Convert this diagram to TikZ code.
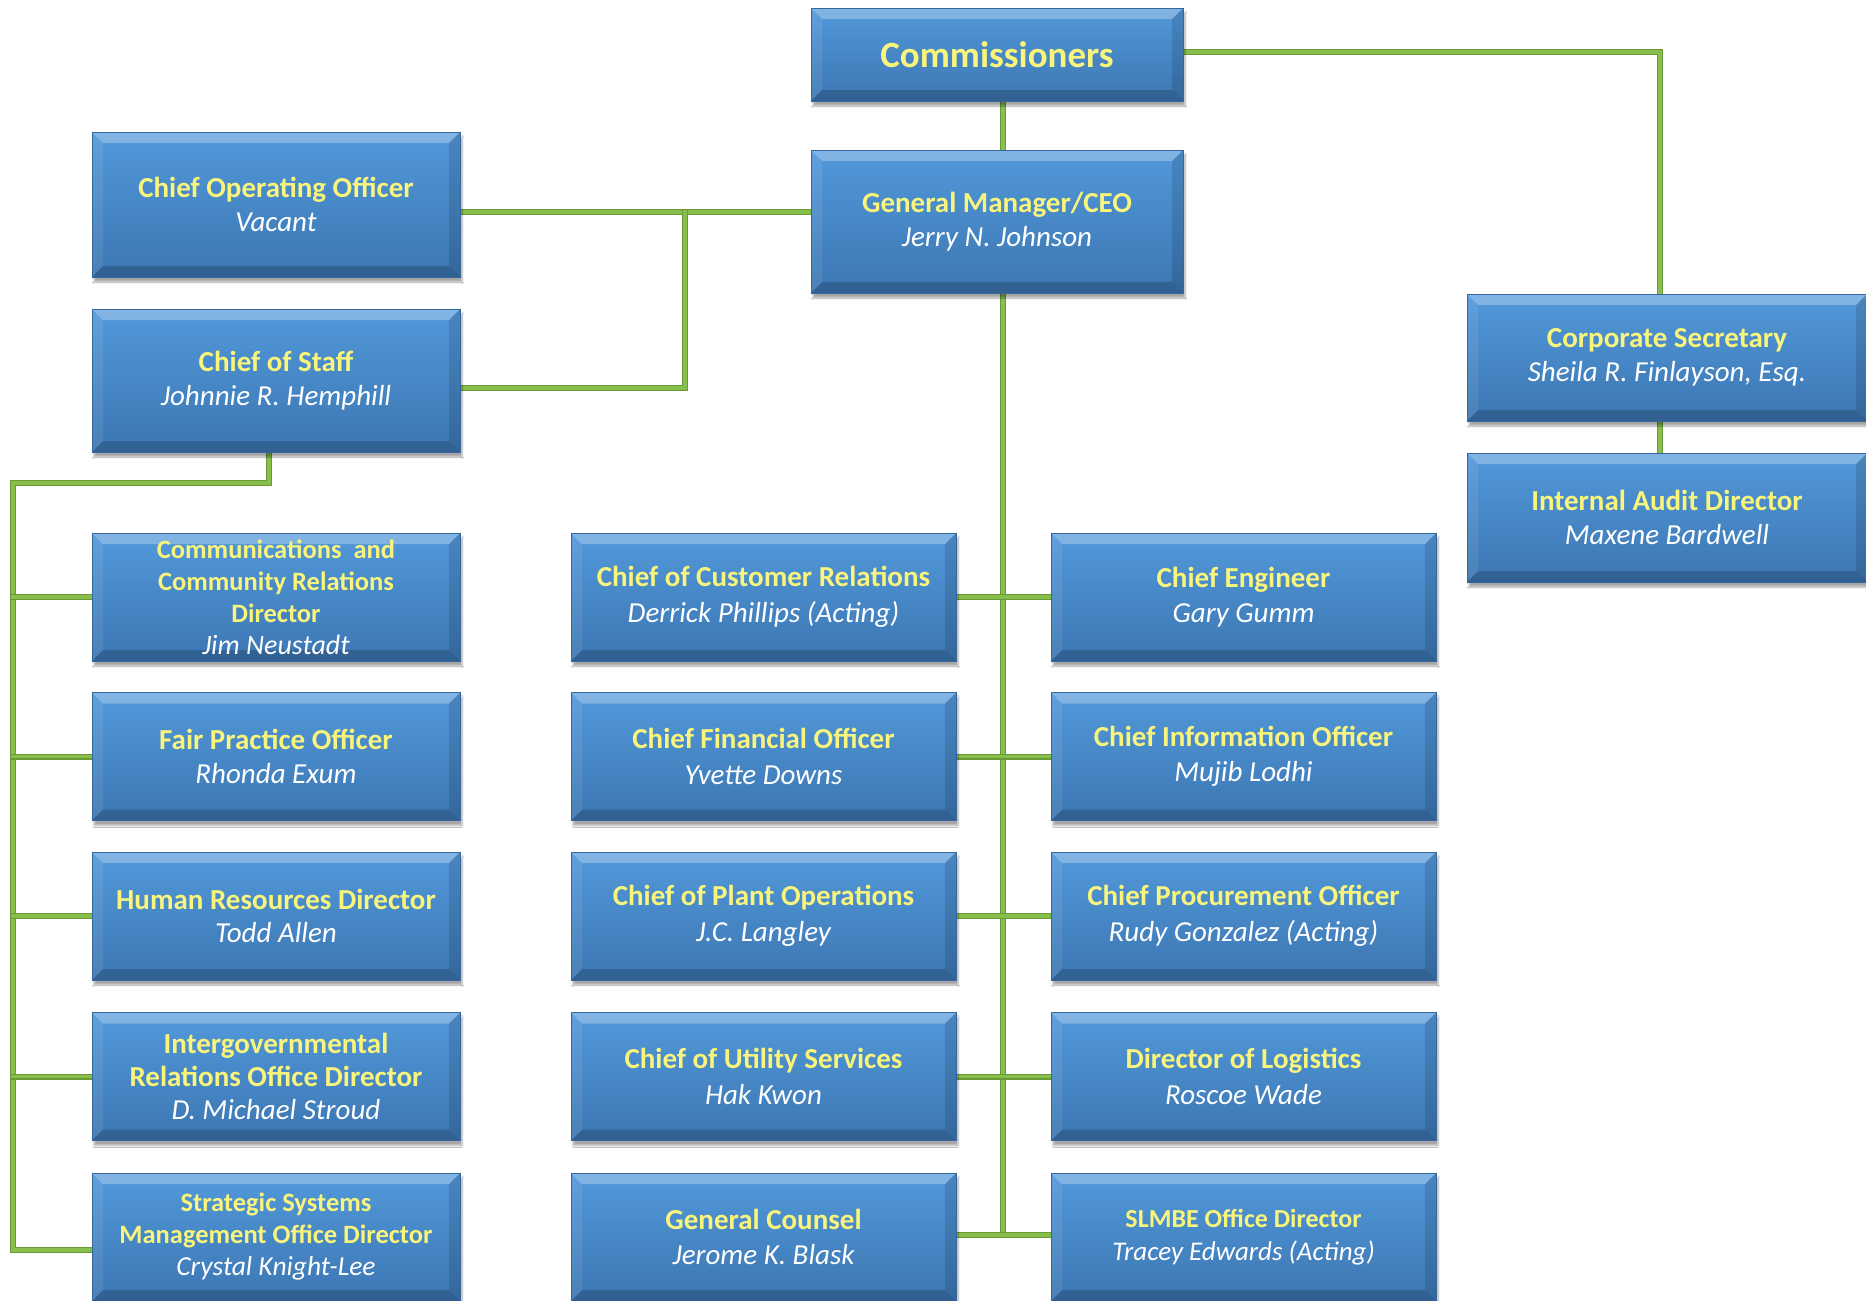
\documentclass[tikz,border=0pt]{standalone}
\usepackage{fontspec}
\setmainfont{Carlito}
\usetikzlibrary{shadows.blur,backgrounds}
\definecolor{boxtop}{HTML}{5299DA}
\definecolor{boxbot}{HTML}{3C76B2}
\definecolor{boxedge}{HTML}{35669C}
\definecolor{ttl}{HTML}{F8F47C}
\definecolor{lgreen}{HTML}{88BE4C}
\definecolor{dgreen}{HTML}{6A9A36}
\newcommand\boxtitle[1]{{\color{ttl}\bfseries #1}}
\newcommand\boxname[1]{{\color{white}\itshape #1}}
\tikzset{
  orgbox/.style={rectangle, draw=boxedge, line width=1pt, top color=boxtop, bottom color=boxbot,
    align=center, inner sep=0pt, font=\fontsize{29}{33.5}\selectfont,
    execute at begin node={\vspace*{7pt}},
    blur shadow={shadow xshift=2pt, shadow yshift=-5pt, shadow opacity=35, shadow blur steps=8},
    path picture={
      \fill[white,opacity=0.28] (path picture bounding box.north west) -- (path picture bounding box.north east)
        -- ([xshift=-11pt,yshift=-11pt]path picture bounding box.north east) -- ([xshift=11pt,yshift=-11pt]path picture bounding box.north west) -- cycle;
      \fill[black,opacity=0.18] (path picture bounding box.south west) -- (path picture bounding box.south east)
        -- ([xshift=-11pt,yshift=11pt]path picture bounding box.south east) -- ([xshift=11pt,yshift=11pt]path picture bounding box.south west) -- cycle;
      \fill[black,opacity=0.12] (path picture bounding box.north east) -- (path picture bounding box.south east)
        -- ([xshift=-11pt,yshift=11pt]path picture bounding box.south east) -- ([xshift=-11pt,yshift=-11pt]path picture bounding box.north east) -- cycle;
      \fill[white,opacity=0.08] (path picture bounding box.north west) -- (path picture bounding box.south west)
        -- ([xshift=11pt,yshift=11pt]path picture bounding box.south west) -- ([xshift=11pt,yshift=-11pt]path picture bounding box.north west) -- cycle;
    }},
  lbox/.style={orgbox, minimum width=368pt, minimum height=128pt},
  cbox/.style={orgbox, minimum width=385pt, minimum height=128pt, font=\fontsize{29}{35.5}\selectfont},
  small/.style={font=\fontsize{26.5}{32}\selectfont},
  conn/.style={draw=lgreen, line width=3.5pt, line cap=rect, preaction={draw=dgreen, line width=6pt, line cap=rect}},
}
\begin{document}
\begin{tikzpicture}[x=1pt,y=-1pt]
\useasboundingbox (0,0) rectangle (1866,1301);

% top
\node[orgbox, minimum width=372pt, minimum height=93pt, font=\fontsize{37}{42}\selectfont] (comm) at (997,54.5) {\boxtitle{Commissioners}};
\node[orgbox, minimum width=372pt, minimum height=143pt] (gm) at (997,221.5) {\boxtitle{General Manager/CEO}\\\boxname{Jerry N. Johnson}};
\node[orgbox, minimum width=368pt, minimum height=145pt] (coo) at (276,204.5) {\boxtitle{Chief Operating Officer}\\\boxname{Vacant}};
\node[orgbox, minimum width=368pt, minimum height=143pt] (cos) at (276,380.5) {\boxtitle{Chief of Staff}\\\boxname{Johnnie R. Hemphill}};
\node[orgbox, minimum width=400pt, minimum height=127pt] (csec) at (1667,357.5) {\boxtitle{Corporate Secretary}\\\boxname{Sheila R. Finlayson, Esq.}};
\node[orgbox, minimum width=400pt, minimum height=129pt] (iad) at (1667,517.5) {\boxtitle{Internal Audit Director}\\\boxname{Maxene Bardwell}};

% left column
\node[lbox, small] (l1) at (276,597) {\boxtitle{Communications\ \ and}\\\boxtitle{Community Relations}\\\boxtitle{Director}\\\boxname{\fontsize{28}{32}\selectfont Jim Neustadt}};
\node[lbox] (l2) at (276,756.5) {\boxtitle{Fair Practice Officer}\\\boxname{Rhonda Exum}};
\node[lbox] (l3) at (276,916) {\boxtitle{Human Resources Director}\\\boxname{Todd Allen}};
\node[lbox, font=\fontsize{29}{33}\selectfont] (l4) at (276,1076.5) {\boxtitle{Intergovernmental}\\\boxtitle{Relations Office Director}\\\boxname{D. Michael Stroud}};
\node[lbox, small] (l5) at (276,1237) {\boxtitle{Strategic Systems}\\\boxtitle{Management Office Director}\\\boxname{\fontsize{27.5}{32}\selectfont Crystal Knight-Lee}};

% middle column
\node[cbox] (m1) at (763.5,597) {\boxtitle{Chief of Customer Relations}\\\boxname{Derrick Phillips (Acting)}};
\node[cbox] (m2) at (763.5,756.5) {\boxtitle{Chief Financial Officer}\\\boxname{Yvette Downs}};
\node[cbox] (m3) at (763.5,916) {\boxtitle{Chief of Plant Operations}\\\boxname{J.C. Langley}};
\node[cbox] (m4) at (763.5,1076.5) {\boxtitle{Chief of Utility Services}\\\boxname{Hak Kwon}};
\node[cbox] (m5) at (763.5,1237) {\boxtitle{General Counsel}\\\boxname{Jerome K. Blask}};

% right column
\node[cbox] (r1) at (1243.5,597) {\boxtitle{Chief Engineer}\\\boxname{Gary Gumm}};
\node[cbox] (r2) at (1243.5,756.5) {\boxtitle{Chief Information Officer}\\\boxname{Mujib Lodhi}};
\node[cbox] (r3) at (1243.5,916) {\boxtitle{Chief Procurement Officer}\\\boxname{Rudy Gonzalez (Acting)}};
\node[cbox] (r4) at (1243.5,1076.5) {\boxtitle{Director of Logistics}\\\boxname{Roscoe Wade}};
\node[cbox, font=\fontsize{26}{33}\selectfont] (r5) at (1243.5,1237) {\boxtitle{SLMBE Office Director}\\\boxname{\fontsize{27}{33}\selectfont Tracey Edwards (Acting)}};

% helper coordinates
\coordinate (spine) at (1003,0);
\coordinate (spineend) at (1003,1235);
\coordinate (secx) at (1660,52);
\coordinate (cooj) at (685,212);
\coordinate (cosj) at (685,388);
\coordinate (cosdrop) at (269,483);
\coordinate (lbustop) at (13,483);
\coordinate (lbusend) at (13,1250);
\coordinate (l5j) at (92,1250);

\begin{scope}[on background layer]
  \fill[white] (0,0) rectangle (1866,1301);
  \draw[conn] (comm.south -| spine) -- (gm.north -| spine);
  \draw[conn] (comm.east |- secx) -- (secx) -- (csec.north -| secx);
  \draw[conn] (csec.south -| secx) -- (iad.north -| secx);
  \draw[conn] (gm.west |- cooj) -- (coo.east |- cooj);
  \draw[conn] (cooj) -- (cosj) -- (cos.east |- cosj);
  \draw[conn] (cos.south -| cosdrop) -- (cosdrop) -- (lbustop) -- (lbusend) -- (l5j);
  \foreach \n in {l1,l2,l3,l4} { \draw[conn] (lbustop |- \n.west) -- (\n.west); }
  \draw[conn] (gm.south -| spine) -- (spineend);
  \foreach \a/\b in {m1/r1,m2/r2,m3/r3,m4/r4} { \draw[conn] (\a.east) -- (\b.west); }
  \draw[conn] (m5.east |- spineend) -- (r5.west |- spineend);
\end{scope}
\end{tikzpicture}
\end{document}
